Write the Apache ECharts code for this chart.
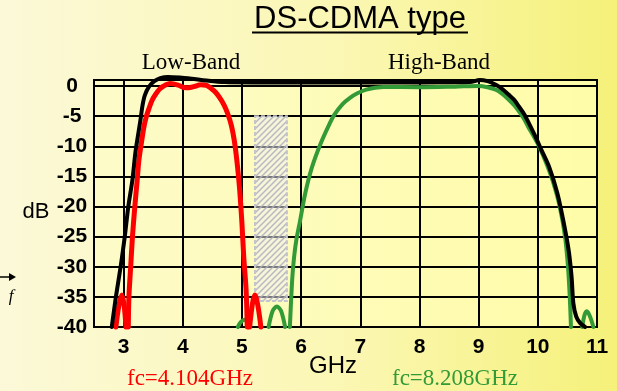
<!DOCTYPE html>
<html>
<head>
<meta charset="utf-8">
<script src="https://cdn.jsdelivr.net/npm/echarts@6/dist/echarts.min.js"></script>
<style>
  html, body { margin: 0; padding: 0; }
  #chart { width: 617px; height: 391px; }
</style>
</head>
<body>
<div id="chart"></div>
<script>
// axis ticks
var xTicks = [3, 4, 5, 6, 7, 8, 9, 10, 11];
var yTicks = [-40, -35, -30, -25, -20, -15, -10, -5, 0];

// total response (black)
var blackCurve = [[2.80,-40],[2.87,-35],[2.95,-30],[3.02,-25],[3.08,-20],[3.15,-15.5],[3.20,-11],[3.25,-7.8],
  [3.29,-5.3],[3.32,-3.2],[3.36,-1.5],[3.43,-0.1],[3.52,0.8],[3.62,1.3],[3.75,1.5],[3.95,1.4],[4.15,1.2],
  [4.40,0.9],[4.70,0.65],[5.20,0.6],[6,0.6],[7,0.6],[8,0.6],[8.85,0.65],[9.02,1.0],[9.15,0.8],[9.29,0.2],
  [9.40,-0.5],[9.51,-1.45],[9.60,-2.3],[9.68,-3.4],[9.77,-4.7],[9.85,-6.2],[9.96,-8.4],[10.06,-10.6],
  [10.19,-13.4],[10.33,-17.8],[10.44,-22.8],[10.52,-27.2],[10.57,-31.6],[10.60,-36],[10.65,-38.3],
  [10.72,-39.4],[10.80,-40]];

// low band (red), split into pieces where it drops below -40
var redLobeLeft = [[2.87,-40],[2.92,-36.5],[2.97,-34.7],[3.01,-36.5],[3.04,-40]];
var redMain = [[3.08,-40],[3.09,-35],[3.12,-30],[3.15,-25],[3.19,-20],[3.23,-15.6],[3.26,-12.2],[3.30,-9.5],
  [3.34,-7.0],[3.38,-5.2],[3.43,-3.7],[3.48,-2.4],[3.54,-1.4],[3.60,-0.6],[3.67,-0.05],[3.79,0.4],[3.92,0.15],
  [4.02,-0.25],[4.10,-0.3],[4.20,-0.05],[4.30,0.2],[4.40,0.1],[4.48,-0.4],[4.55,-1.0],[4.62,-1.9],[4.70,-3.2],
  [4.76,-4.6],[4.82,-6.5],[4.87,-9],[4.91,-12],[4.96,-17],[5.00,-22.8],[5.03,-28.3],[5.07,-33.8],[5.09,-40]];
var redLobeRight = [[5.13,-40],[5.18,-36],[5.22,-34.7],[5.27,-36.5],[5.32,-40]];

// high band (green)
var greenLobeA = [[4.93,-40],[4.98,-39.2],[5.04,-38.8],[5.09,-39.2],[5.13,-40]];
var greenLobeB = [[5.45,-40],[5.52,-37.3],[5.59,-36.6],[5.66,-37.3],[5.73,-40]];
var greenMain = [[5.81,-40],[5.85,-32],[5.88,-28.5],[5.92,-25.5],[5.98,-22.5],[6.07,-17.8],[6.18,-13.6],
  [6.32,-9.8],[6.46,-6.7],[6.56,-4.8],[6.70,-3.0],[6.82,-2.0],[6.95,-1.2],[7.10,-0.6],[7.25,-0.3],[7.40,-0.15],
  [8.0,-0.2],[8.6,-0.1],[9.0,0],[9.15,-0.2],[9.29,-0.6],[9.40,-1.3],[9.51,-2.3],[9.60,-3.2],[9.68,-4.2],
  [9.77,-5.5],[9.85,-7],[9.94,-8.5],[10.02,-10],[10.15,-13],[10.26,-16],[10.37,-20],[10.46,-25],[10.51,-30],
  [10.54,-35],[10.56,-40]];
var greenLobeC = [[10.75,-40],[10.79,-38],[10.83,-37.4],[10.88,-38.2],[10.94,-40]];

// hatched band between the two: [x0, x1, yTop, yBottom]
var hatchBand = [5.22, 5.76, -5, -35.7];

var hatch = document.createElement('canvas');
hatch.width = 6; hatch.height = 6;
var hc = hatch.getContext('2d');
hc.fillStyle = 'rgba(240,240,245,0.5)';
hc.fillRect(0, 0, 6, 6);
hc.strokeStyle = 'rgba(175,175,192,0.85)';
hc.lineWidth = 1.5;
hc.beginPath();
hc.moveTo(0, 6); hc.lineTo(6, 0);
hc.moveTo(-1, 1); hc.lineTo(1, -1);
hc.moveTo(5, 7); hc.lineTo(7, 5);
hc.stroke();

function curve(data, color, width, extra) {
    var s = {
        type: 'line',
        data: data,
        symbol: 'none',
        smooth: 0.3,
        clip: false,
        silent: true,
        lineStyle: { color: color, width: width, join: 'round', cap: 'round' }
    };
    if (extra) for (var k in extra) s[k] = extra[k];
    return s;
}

var green = '#329a37';
var red = '#ff0000';

var gridColors = yTicks.map(function (v) { return v === 0 ? '#8a8a8a' : '#000'; });
gridColors.push('#000');

var chart = echarts.init(document.getElementById('chart'));
chart.setOption({
    animation: false,
    backgroundColor: {
        type: 'linear', x: 0, y: 0, x2: 1, y2: 0,
        colorStops: [
            { offset: 0, color: '#fbf9d8' },
            { offset: 0.55, color: '#fbf7b4' },
            { offset: 1, color: '#f5f17a' }
        ]
    },
    grid: {
        left: 94, right: 20, top: 80, bottom: 64,
        show: true,
        borderColor: '#000',
        borderWidth: 2,
        backgroundColor: {
            type: 'linear', x: 0, y: 0, x2: 1, y2: 0,
            colorStops: [
                { offset: 0, color: '#fdfbc8' },
                { offset: 1, color: '#fffca8' }
            ]
        }
    },
    xAxis: {
        type: 'value',
        min: 2.5,
        max: 11,
        axisLine: { lineStyle: { color: '#000', width: 2 } },
        axisTick: { show: false, customValues: xTicks },
        axisLabel: {
            customValues: xTicks,
            margin: 10,
            color: '#000',
            fontFamily: 'Liberation Sans',
            fontWeight: 'bold',
            fontSize: 21
        },
        splitLine: { show: true, lineStyle: { color: '#000', width: 2 } }
    },
    yAxis: {
        type: 'value',
        min: -40,
        max: 1,
        interval: 5,
        axisLine: { show: true, lineStyle: { color: '#000', width: 2 } },
        axisTick: { show: false },
        axisLabel: {
            margin: 22,
            align: 'center',
            color: '#000',
            fontFamily: 'Liberation Sans',
            fontWeight: 'bold',
            fontSize: 21,
            formatter: function (v) { return v > 0 ? '' : String(v); }
        },
        splitLine: { show: true, lineStyle: { color: gridColors, width: 2 } }
    },
    series: [
        curve(greenLobeA, green, 4, {
            markArea: {
                silent: true,
                itemStyle: {
                    color: { image: hatch, repeat: 'repeat' },
                    borderColor: '#c4c4cc',
                    borderWidth: 2,
                    borderType: [4, 2]
                },
                data: [[{ coord: [hatchBand[0], hatchBand[2]] }, { coord: [hatchBand[1], hatchBand[3]] }]]
            }
        }),
        curve(greenLobeB, green, 4),
        curve(greenMain, green, 4),
        curve(greenLobeC, green, 4),
        curve(redLobeLeft, red, 5),
        curve(redMain, red, 5),
        curve(redLobeRight, red, 5),
        curve(blackCurve, '#000', 4)
    ],
    graphic: [
        { type: 'text', style: { x: 360, y: 19, text: 'DS-CDMA type', align: 'center', verticalAlign: 'middle',
            font: '31px "Liberation Sans"', fill: '#000' } },
        { type: 'line', shape: { x1: 252, y1: 32.5, x2: 468, y2: 32.5 }, style: { stroke: '#000', lineWidth: 2 } },
        { type: 'text', style: { x: 191, y: 63, text: 'Low-Band', align: 'center', verticalAlign: 'middle',
            font: '23px "Liberation Serif"', fill: '#000' } },
        { type: 'text', style: { x: 439, y: 63, text: 'High-Band', align: 'center', verticalAlign: 'middle',
            font: '23px "Liberation Serif"', fill: '#000' } },
        { type: 'text', style: { x: 36, y: 212, text: 'dB', align: 'center', verticalAlign: 'middle',
            font: '22px "Liberation Sans"', fill: '#000' } },
        { type: 'text', style: { x: 333, y: 366, text: 'GHz', align: 'center', verticalAlign: 'middle',
            font: '24px "Liberation Sans"', fill: '#000' } },
        { type: 'text', style: { x: 190, y: 379, text: 'fc=4.104GHz', align: 'center', verticalAlign: 'middle',
            font: '23px "Liberation Serif"', fill: red } },
        { type: 'text', style: { x: 455, y: 379, text: 'fc=8.208GHz', align: 'center', verticalAlign: 'middle',
            font: '23px "Liberation Serif"', fill: green } },
        { type: 'line', shape: { x1: 0, y1: 277, x2: 12, y2: 277 }, style: { stroke: '#000', lineWidth: 1.5 } },
        { type: 'polygon', shape: { points: [[16, 277], [9, 273], [9, 281]] }, style: { fill: '#000' } },
        { type: 'text', style: { x: 11, y: 297, text: 'f', align: 'center', verticalAlign: 'middle',
            font: 'italic 17px "Liberation Serif"', fill: '#000' } }
    ]
});
</script>
</body>
</html>
